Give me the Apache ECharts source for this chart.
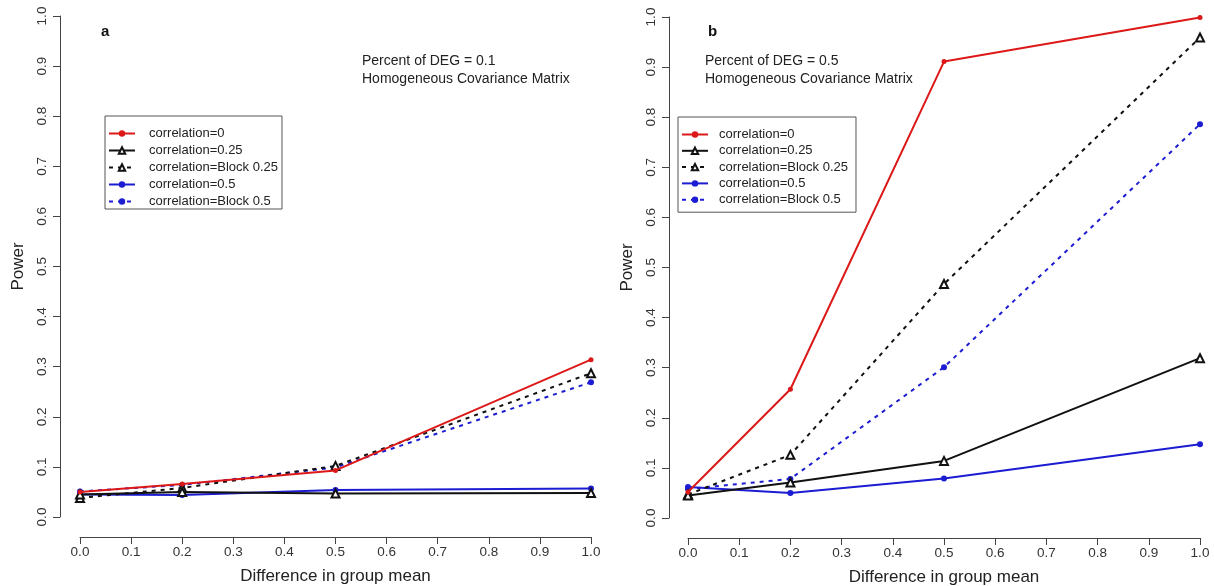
<!DOCTYPE html>
<html>
<head>
<meta charset="utf-8">
<script src="https://cdn.jsdelivr.net/npm/echarts@6/dist/echarts.min.js"></script>
<style>
html,body{margin:0;padding:0;background:#fff;}
#chart{width:1214px;height:586px;}
</style>
</head>
<body>
<div id="chart"></div>
<script>
// ---- data ----
const xVals = [0, 0.2, 0.5, 1.0];
const seriesNames = ['correlation=0', 'correlation=0.25', 'correlation=Block 0.25', 'correlation=0.5', 'correlation=Block 0.5'];
const xTickLabels = ['0.0','0.1','0.2','0.3','0.4','0.5','0.6','0.7','0.8','0.9','1.0'];
const yTickLabels = ['0.0','0.1','0.2','0.3','0.4','0.5','0.6','0.7','0.8','0.9','1.0'];

// panel a: Percent of DEG = 0.1
const a_corr0    = [0.050, 0.066, 0.093, 0.314];
const a_corr025  = [0.045, 0.050, 0.047, 0.048];
const a_block025 = [0.038, 0.058, 0.102, 0.287];
const a_corr05   = [0.045, 0.044, 0.054, 0.057];
const a_block05  = [0.051, 0.064, 0.099, 0.269];

// panel b: Percent of DEG = 0.5
const b_corr0    = [0.052, 0.257, 0.911, 0.999];
const b_corr025  = [0.045, 0.071, 0.114, 0.319];
const b_block025 = [0.047, 0.126, 0.467, 0.959];
const b_corr05   = [0.062, 0.050, 0.079, 0.147];
const b_block05  = [0.058, 0.078, 0.301, 0.786];

const panelTexts = [
  {label: 'a', note: 'Percent of DEG = 0.1\nHomogeneous Covariance Matrix'},
  {label: 'b', note: 'Percent of DEG = 0.5\nHomogeneous Covariance Matrix'}
];

// ---- styling ----
const RED = '#dc1818', BLACK = '#111111', BLUE = '#1c1cd2';
const FONT = 'Liberation Sans, Arial, sans-serif';
const styles = [
  {color: RED,   type: 'solid',  symbol: 'circle',        size: 5},
  {color: BLACK, type: 'solid',  symbol: 'emptyTriangle', size: 8},
  {color: BLACK, type: [4, 5],   symbol: 'emptyTriangle', size: 8},
  {color: BLUE,  type: 'solid',  symbol: 'circle',        size: 6},
  {color: BLUE,  type: [4, 5],   symbol: 'circle',        size: 6}
];

function pairs(ys) { return xVals.map((x, i) => [x, ys[i]]); }

function makeSeries(arrs, gridIndex) {
  return arrs.map((ys, k) => ({
    name: seriesNames[k],
    type: 'line',
    xAxisIndex: gridIndex,
    yAxisIndex: gridIndex,
    data: pairs(ys),
    symbol: styles[k].symbol,
    symbolSize: styles[k].size,
    showSymbol: true,
    color: styles[k].color,
    lineStyle: {color: styles[k].color, width: 2, type: styles[k].type},
    itemStyle: {color: styles[k].color, borderColor: styles[k].color, borderWidth: styles[k].symbol === 'emptyTriangle' ? 1.6 : 0},
    z: 10 - k,
    animation: false
  }));
}

function xAxisDef(gridIndex) {
  return {
    type: 'value', gridIndex, min: 0, max: 1, interval: 0.1, offset: 20,
    name: 'Difference in group mean', nameLocation: 'middle', nameGap: 31,
    nameTextStyle: {fontSize: 17, color: '#222', fontFamily: FONT},
    axisLine: {show: true, onZero: false, lineStyle: {color: '#444', width: 1}},
    axisTick: {show: true, length: 7, lineStyle: {color: '#444'}},
    axisLabel: {fontSize: 13.5, color: '#333', fontFamily: FONT, margin: 8,
      formatter: v => xTickLabels[Math.round(v * 10)]},
    splitLine: {show: false}
  };
}
function yAxisDef(gridIndex, off) {
  return {
    type: 'value', gridIndex, min: 0, max: 1, interval: 0.1, offset: off,
    name: 'Power', nameLocation: 'middle', nameGap: 33, nameRotate: 90,
    nameTextStyle: {fontSize: 17, color: '#222', fontFamily: FONT},
    axisLine: {show: true, onZero: false, lineStyle: {color: '#444', width: 1}},
    axisTick: {show: true, length: 7, lineStyle: {color: '#444'}},
    axisLabel: {fontSize: 13.5, color: '#333', fontFamily: FONT, margin: 11, rotate: 90,
      formatter: v => yTickLabels[Math.round(v * 10)]},
    splitLine: {show: false}
  };
}

function legendDef(left, top, pad) {
  return {
    data: seriesNames, orient: 'vertical', left, top,
    itemWidth: 26, itemHeight: 8, itemGap: pad.gap,
    padding: pad.p,
    backgroundColor: '#fff', borderColor: '#555', borderWidth: 1, borderRadius: 0,
    textStyle: {fontSize: 13, lineHeight: 15, color: '#222', fontFamily: FONT, padding: [0, 0, 0, pad.tp]},
    selectedMode: false
  };
}

const option = {
  backgroundColor: '#fff',
  animation: false,
  grid: [
    {left: 80, right: 623, top: 16, bottom: 69, outerBoundsMode: 'none', containLabel: false},
    {left: 688, right: 14, top: 17, bottom: 68, outerBoundsMode: 'none', containLabel: false}
  ],
  xAxis: [xAxisDef(0), xAxisDef(1)],
  yAxis: [yAxisDef(0, 20), yAxisDef(1, 19)],
  legend: [
    legendDef(105, 116, {gap: 2, p: [10, 4, 0, 3], tp: 9}),
    legendDef(678, 117, {gap: 1.3, p: [10, 8, 5, 3], tp: 6})
  ],
  title: [
    {text: panelTexts[0].label, left: 96, top: 19, textStyle: {fontSize: 15, fontWeight: 'bold', color: '#111', fontFamily: FONT}},
    {text: panelTexts[0].note, left: 357, top: 47, textStyle: {fontSize: 14, fontWeight: 'normal', color: '#222', fontFamily: FONT, lineHeight: 18}},
    {text: panelTexts[1].label, left: 703, top: 19, textStyle: {fontSize: 15, fontWeight: 'bold', color: '#111', fontFamily: FONT}},
    {text: panelTexts[1].note, left: 700, top: 47, textStyle: {fontSize: 14, fontWeight: 'normal', color: '#222', fontFamily: FONT, lineHeight: 18}}
  ],
  series: [
    ...makeSeries([a_corr0, a_corr025, a_block025, a_corr05, a_block05], 0),
    ...makeSeries([b_corr0, b_corr025, b_block025, b_corr05, b_block05], 1)
  ]
};

const chart = echarts.init(document.getElementById('chart'), null, {renderer: 'canvas'});
chart.setOption(option);
</script>
</body>
</html>
